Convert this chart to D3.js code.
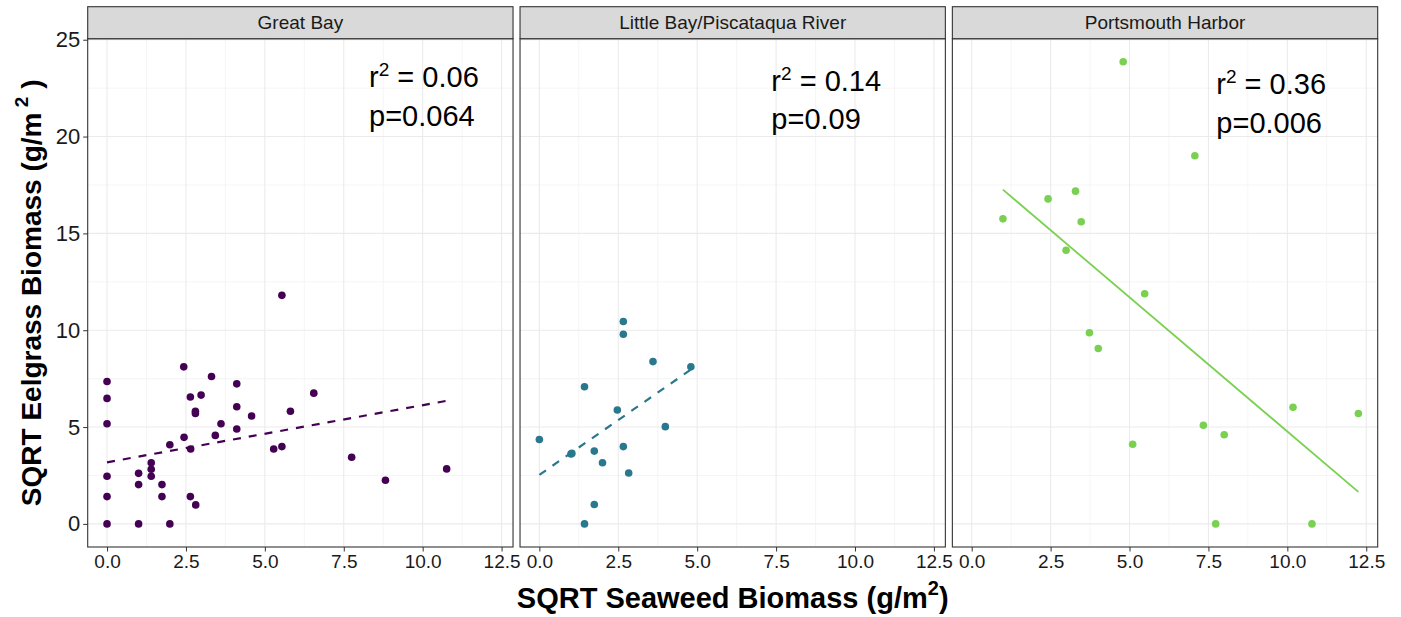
<!DOCTYPE html>
<html><head><meta charset="utf-8">
<script src="https://cdn.jsdelivr.net/npm/d3@7"></script>
<style>body{margin:0;background:#fff} text{font-family:"Liberation Sans", Arial, sans-serif}</style>
</head><body><svg id="c" width="1401" height="617"></svg>
<script>
// ---- data ----
const facets = ["Great Bay", "Little Bay/Piscataqua River", "Portsmouth Harbor"];
const colors = ["#440154", "#2A788E", "#7AD151"];

const gbX = [0,0,0,0,0,0, 1.0,1.0,1.0, 1.40,1.40,1.40, 1.74,1.74, 1.99,1.99, 2.43,2.44, 2.64,2.65,2.64, 2.80,2.80,2.81, 2.98, 3.31, 3.43, 3.61, 4.11,4.11,4.11, 4.58, 5.28, 5.54,5.54, 5.81, 6.55, 7.75, 8.82, 10.76];
const gbY = [7.35,6.48,5.17,2.46,1.41,0, 2.61,2.03,0, 3.16,2.82,2.46, 2.03,1.41, 4.09,0, 8.11,4.47, 6.55,3.87,1.41, 5.81,5.70,0.98, 6.65, 7.61, 4.57, 5.17, 7.23,6.05,4.90, 5.57, 3.87, 11.80,3.99, 5.82, 6.75, 3.44, 2.25, 2.84];

const lbX = [0, 1.0, 1.03, 1.43, 1.43, 1.74, 1.74, 2.0, 2.47, 2.66, 2.66, 2.66, 2.83, 3.60, 3.99, 4.80];
const lbY = [4.36, 3.61, 3.64, 7.08, 0, 1.0, 3.76, 3.16, 5.88, 10.45, 9.79, 3.99, 2.63, 8.38, 5.02, 8.11];

const phX = [4.80, 7.07, 0.99, 2.42, 3.29, 3.47, 2.99, 5.48, 3.73, 4.01, 5.10, 7.34, 8.00, 7.73, 10.78, 10.18, 12.25];
const phY = [23.86, 19.01, 15.75, 16.78, 17.18, 15.60, 14.13, 11.88, 9.87, 9.06, 4.11, 5.09, 4.60, 0, 0, 6.02, 5.70];

const fitIntercept = [3.18, 2.53, 18.63];
const fitSlope = [0.295, 1.133, -1.386];
const fitDashed = [true, true, false];

const annR2 = ["0.06", "0.14", "0.36"];
const annP = ["p=0.064", "p=0.09", "p=0.006"];
const annX = [8.3, 7.35, 7.75];
const annY = [22.55, 22.36, 22.19];

const xTicks = [0, 2.5, 5, 7.5, 10, 12.5];
const xMinor = [1.25, 3.75, 6.25, 8.75, 11.25];
const yTicks = [0, 5, 10, 15, 20, 25];
const yMinor = [2.5, 7.5, 12.5, 17.5, 22.5];

const xTitle = "SQRT Seaweed Biomass (g/m";
const yTitle = "SQRT Eelgrass Biomass (g/m";

// ---- layout ----
const svg = d3.select("#c");
const leftX = 87.7, topY = 38.7, bottomY = 547, panelW = 425.33, gap = 7, stripH = 32;
const panelH = bottomY - topY;

const series = [[gbX, gbY], [lbX, lbY], [phX, phY]];
const allX = series.flatMap(s => s[0]);
const allY = series.flatMap(s => s[1]);
function expand(ext) { const d = (ext[1] - ext[0]) * 0.05; return [ext[0] - d, ext[1] + d]; }

const x = d3.scaleLinear().domain(expand(d3.extent(allX))).range([0, panelW]);
const y = d3.scaleLinear().domain(expand(d3.extent(allY))).range([panelH, 0]);

facets.forEach((name, i) => {
  const px = leftX + i * (panelW + gap);
  const g = svg.append("g").attr("transform", `translate(${px},${topY})`);

  g.selectAll(".xm").data(xMinor).join("line")
    .attr("x1", d => x(d)).attr("x2", d => x(d)).attr("y1", 0).attr("y2", panelH)
    .attr("stroke", "#F2F2F2").attr("stroke-width", 0.8);
  g.selectAll(".ym").data(yMinor).join("line")
    .attr("y1", d => y(d)).attr("y2", d => y(d)).attr("x1", 0).attr("x2", panelW)
    .attr("stroke", "#F2F2F2").attr("stroke-width", 0.8);
  g.selectAll(".xM").data(xTicks).join("line")
    .attr("x1", d => x(d)).attr("x2", d => x(d)).attr("y1", 0).attr("y2", panelH)
    .attr("stroke", "#EBEBEB").attr("stroke-width", 1.1);
  g.selectAll(".yM").data(yTicks).join("line")
    .attr("y1", d => y(d)).attr("y2", d => y(d)).attr("x1", 0).attr("x2", panelW)
    .attr("stroke", "#EBEBEB").attr("stroke-width", 1.1);

  const [xs, ys] = series[i];
  const ext = d3.extent(xs);
  const fitPts = ext.map(v => [v, fitIntercept[i] + fitSlope[i] * v]);
  g.append("path")
    .attr("d", d3.line().x(d => x(d[0])).y(d => y(d[1]))(fitPts))
    .attr("fill", "none").attr("stroke", colors[i])
    .attr("stroke-width", fitDashed[i] ? 2.2 : 1.8)
    .attr("stroke-dasharray", fitDashed[i] ? "8,8" : null);

  g.selectAll(".pt").data(xs.map((v, k) => [v, ys[k]])).join("circle")
    .attr("cx", d => x(d[0])).attr("cy", d => y(d[1])).attr("r", 3.8)
    .attr("fill", colors[i]);

  const t = g.append("text").attr("x", x(annX[i])).attr("y", y(annY[i]))
    .attr("font-size", 29).attr("fill", "#000");
  t.append("tspan").text("r");
  t.append("tspan").attr("font-size", 19).attr("dy", -11).text("2");
  t.append("tspan").attr("dy", 11).text(" = " + annR2[i]);
  g.append("text").attr("x", x(annX[i])).attr("y", y(annY[i]) + 38.5)
    .attr("font-size", 29).attr("fill", "#000").text(annP[i]);

  g.append("rect").attr("x", 0).attr("y", 0).attr("width", panelW).attr("height", panelH)
    .attr("fill", "none").attr("stroke", "#333").attr("stroke-width", 1.1);

  g.append("rect").attr("x", 0).attr("y", -stripH).attr("width", panelW).attr("height", stripH)
    .attr("fill", "#D9D9D9").attr("stroke", "#333").attr("stroke-width", 1.1);
  g.append("text").attr("x", panelW / 2).attr("y", -stripH / 2).attr("dy", "0.35em")
    .attr("text-anchor", "middle").attr("font-size", 19).attr("fill", "#1A1A1A").text(name);

  const ax = g.append("g").attr("transform", `translate(0,${panelH})`)
    .call(d3.axisBottom(x).tickValues(xTicks).tickFormat(d3.format(".1f")).tickSize(4.5).tickSizeOuter(0).tickPadding(3));
  ax.select(".domain").remove();
  ax.selectAll("line").attr("stroke", "#333");
  ax.selectAll("text").attr("font-size", 19).attr("fill", "#1A1A1A").attr("font-family", "Liberation Sans, Arial, sans-serif");

  if (i === 0) {
    const ay = g.append("g")
      .call(d3.axisLeft(y).tickValues(yTicks).tickSize(4.5).tickSizeOuter(0).tickPadding(3));
    ay.select(".domain").remove();
    ay.selectAll("line").attr("stroke", "#333");
    ay.selectAll("text").attr("font-size", 22).attr("fill", "#1A1A1A").attr("font-family", "Liberation Sans, Arial, sans-serif");
  }
});

const totalMid = leftX + (3 * panelW + 2 * gap) / 2;
const xt = svg.append("text").attr("x", totalMid).attr("y", 608).attr("text-anchor", "middle")
  .attr("font-size", 29).attr("font-weight", "bold").attr("fill", "#000");
xt.append("tspan").text(xTitle);
xt.append("tspan").attr("font-size", 20).attr("dy", -13).text("2");
xt.append("tspan").attr("dy", 13).text(")");

const yt = svg.append("text").attr("transform", `translate(41,${topY + panelH / 2}) rotate(-90)`)
  .attr("text-anchor", "middle").attr("font-size", 28).attr("font-weight", "bold").attr("fill", "#000");
yt.append("tspan").text(yTitle);
yt.append("tspan").attr("font-size", 19).attr("dy", -13).text(" 2");
yt.append("tspan").attr("dy", 13).text(" )");
</script></body></html>
